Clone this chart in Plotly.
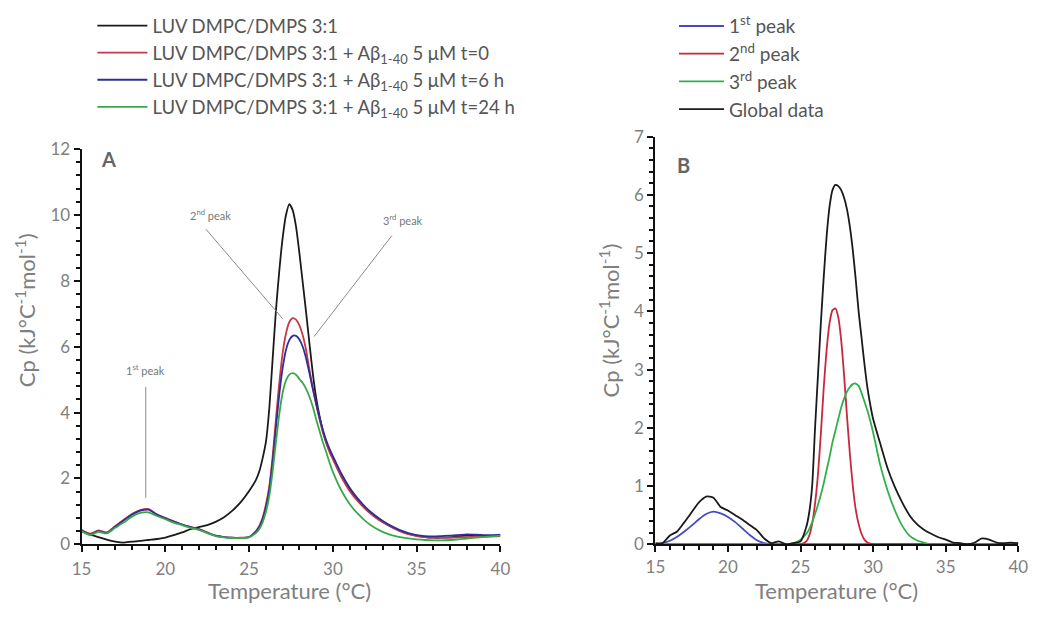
import plotly.graph_objects as go

# ---------------- data: panel A ----------------
temp_a = [15.0, 15.5, 16.0, 16.5, 17.0, 17.5, 18.0, 18.5, 19.0, 19.5, 20.0, 20.5, 21.0, 21.5,
          22.0, 22.5, 23.0, 23.5, 24.0, 24.5, 25.0, 25.4, 25.6, 25.8, 26.0, 26.2, 26.4, 26.6,
          26.8, 27.0, 27.2, 27.4, 27.6, 27.8, 28.0, 28.2, 28.4, 28.6, 28.8, 29.0, 29.2, 29.4,
          29.6, 29.8, 30.0, 30.5, 31.0, 31.5, 32.0, 32.5, 33.0, 33.5, 34.0, 34.5, 35.0, 35.5,
          36.0, 36.5, 37.0, 37.5, 38.0, 38.5, 39.0, 39.5, 40.0]

cp_luv = [0.40, 0.30, 0.22, 0.14, 0.08, 0.05, 0.08, 0.10, 0.13, 0.16, 0.20, 0.28, 0.36, 0.46,
          0.52, 0.58, 0.68, 0.82, 1.02, 1.28, 1.62, 1.95, 2.20, 2.60, 3.10, 4.10, 5.60, 7.10,
          8.30, 9.30, 10.00, 10.33, 10.15, 9.65, 8.85, 7.95, 7.05, 6.10, 5.20, 4.45, 3.90, 3.45,
          3.10, 2.85, 2.62, 2.10, 1.68, 1.35, 1.08, 0.86, 0.68, 0.53, 0.41, 0.32, 0.26, 0.22,
          0.20, 0.20, 0.21, 0.24, 0.27, 0.26, 0.24, 0.25, 0.27]

cp_t0 = [0.44, 0.32, 0.42, 0.36, 0.55, 0.74, 0.92, 1.04, 1.07, 0.90, 0.80, 0.70, 0.60, 0.53,
         0.46, 0.36, 0.26, 0.22, 0.20, 0.20, 0.22, 0.40, 0.55, 0.80, 1.20, 1.75, 2.65, 3.80,
         4.90, 5.80, 6.40, 6.75, 6.87, 6.82, 6.65, 6.35, 5.90, 5.30, 4.75, 4.25, 3.80, 3.40,
         3.08, 2.80, 2.58, 2.05, 1.62, 1.30, 1.04, 0.83, 0.66, 0.52, 0.40, 0.31, 0.25, 0.22,
         0.20, 0.20, 0.20, 0.21, 0.22, 0.23, 0.24, 0.24, 0.25]

cp_t6 = [0.42, 0.30, 0.40, 0.34, 0.53, 0.72, 0.90, 1.02, 1.05, 0.90, 0.78, 0.69, 0.60, 0.52,
         0.45, 0.35, 0.26, 0.22, 0.20, 0.19, 0.22, 0.38, 0.52, 0.76, 1.12, 1.65, 2.50, 3.55,
         4.55, 5.35, 5.90, 6.20, 6.33, 6.33, 6.22, 6.00, 5.65, 5.20, 4.72, 4.28, 3.86, 3.48,
         3.16, 2.90, 2.68, 2.15, 1.72, 1.38, 1.10, 0.88, 0.70, 0.55, 0.43, 0.34, 0.28, 0.25,
         0.24, 0.25, 0.26, 0.28, 0.30, 0.29, 0.28, 0.28, 0.29]

cp_t24 = [0.40, 0.28, 0.38, 0.33, 0.50, 0.66, 0.84, 0.95, 0.97, 0.86, 0.76, 0.66, 0.58, 0.50,
          0.44, 0.34, 0.25, 0.21, 0.19, 0.19, 0.21, 0.34, 0.46, 0.66, 0.98, 1.45, 2.20, 3.10,
          3.95, 4.60, 4.98, 5.15, 5.20, 5.15, 5.02, 4.90, 4.72, 4.48, 4.18, 3.80, 3.45, 3.10,
          2.80, 2.48, 2.20, 1.64, 1.22, 0.92, 0.68, 0.50, 0.37, 0.28, 0.22, 0.18, 0.15, 0.13,
          0.12, 0.12, 0.13, 0.15, 0.17, 0.20, 0.22, 0.24, 0.26]

# ---------------- data: panel B ----------------
temp_b = temp_a

cp_peak1 = [0.00, 0.02, 0.06, 0.13, 0.22, 0.32, 0.43, 0.52, 0.56, 0.53, 0.47, 0.38, 0.27, 0.16,
            0.07, 0.02, 0.00, 0.00, 0.00, 0.00, 0.00, 0.00, 0.00, 0.00, 0.00, 0.00, 0.00, 0.00,
            0.00, 0.00, 0.00, 0.00, 0.00, 0.00, 0.00, 0.00, 0.00, 0.00, 0.00, 0.00, 0.00, 0.00,
            0.00, 0.00, 0.00, 0.00, 0.00, 0.00, 0.00, 0.00, 0.00, 0.00, 0.00, 0.00, 0.00, 0.00,
            0.00, 0.00, 0.00, 0.00, 0.00, 0.00, 0.00, 0.00, 0.00]

cp_peak2 = [0.00, 0.00, 0.00, 0.00, 0.00, 0.00, 0.00, 0.00, 0.00, 0.00, 0.00, 0.00, 0.00, 0.00,
            0.00, 0.00, 0.00, 0.00, 0.00, 0.00, 0.00, 0.05, 0.15, 0.35, 0.70, 1.20, 1.90, 2.70,
            3.35, 3.80, 4.02, 4.05, 3.90, 3.50, 2.90, 2.20, 1.55, 1.00, 0.60, 0.35, 0.18, 0.08,
            0.03, 0.01, 0.00, 0.00, 0.00, 0.00, 0.00, 0.00, 0.00, 0.00, 0.00, 0.00, 0.00, 0.00,
            0.00, 0.00, 0.00, 0.00, 0.00, 0.00, 0.00, 0.00, 0.00]

cp_peak3 = [0.00, 0.00, 0.00, 0.00, 0.00, 0.00, 0.00, 0.00, 0.00, 0.00, 0.00, 0.00, 0.00, 0.00,
            0.00, 0.00, 0.00, 0.00, 0.00, 0.02, 0.08, 0.18, 0.26, 0.38, 0.52, 0.68, 0.85, 1.05,
            1.28, 1.50, 1.75, 1.95, 2.15, 2.35, 2.50, 2.62, 2.70, 2.75, 2.76, 2.72, 2.60, 2.45,
            2.30, 2.12, 1.92, 1.35, 0.92, 0.58, 0.32, 0.15, 0.07, 0.03, 0.00, 0.00, 0.00, 0.00,
            0.00, 0.00, 0.00, 0.00, 0.00, 0.00, 0.00, 0.00, 0.00]

cp_global = [0.02, 0.02, 0.15, 0.22, 0.38, 0.55, 0.72, 0.82, 0.80, 0.64, 0.58, 0.50, 0.42, 0.33,
             0.24, 0.10, 0.02, 0.05, 0.00, 0.02, 0.05, 0.30, 0.55, 1.00, 2.00, 2.90, 3.80, 4.60,
             5.30, 5.80, 6.08, 6.17, 6.15, 6.08, 5.95, 5.75, 5.45, 5.05, 4.55, 4.00, 3.55, 3.10,
             2.70, 2.40, 2.15, 1.72, 1.30, 0.98, 0.72, 0.50, 0.35, 0.25, 0.18, 0.12, 0.08, 0.03,
             0.02, 0.00, 0.03, 0.10, 0.08, 0.03, 0.02, 0.03, 0.02]

names_a = ["LUV DMPC/DMPS 3:1",
           "LUV DMPC/DMPS 3:1 + Aβ<sub>1-40</sub> 5 μM t=0",
           "LUV DMPC/DMPS 3:1 + Aβ<sub>1-40</sub> 5 μM t=6 h",
           "LUV DMPC/DMPS 3:1 + Aβ<sub>1-40</sub> 5 μM t=24 h"]
names_b = ["1<sup>st</sup> peak", "2<sup>nd</sup> peak", "3<sup>rd</sup> peak", "Global data"]

colors_a = ["#1a1a1a", "#c8384a", "#2e2e9a", "#3aa84a"]
colors_b = ["#4848c8", "#c8283c", "#30b04a", "#1a1a1a"]

FONT = "Lato, 'Open Sans', sans-serif"
GREY = "#7f7f7f"

fig = go.Figure()

series_a = [cp_luv, cp_t0, cp_t6, cp_t24]
for vals, name, col in zip(series_a, names_a, colors_a):
    fig.add_trace(go.Scatter(x=temp_a, y=vals, name=name, mode="lines",
                             line=dict(color=col, width=1.8, shape="spline", smoothing=0.6),
                             xaxis="x", yaxis="y", legend="legend"))

series_b = [cp_peak1, cp_peak2, cp_peak3, cp_global]
for vals, name, col in zip(series_b, names_b, colors_b):
    fig.add_trace(go.Scatter(x=temp_b, y=vals, name=name, mode="lines",
                             line=dict(color=col, width=1.8, shape="spline", smoothing=0.6),
                             xaxis="x2", yaxis="y2", legend="legend2"))

W, H = 1043, 619
axis_common = dict(showline=True, linecolor="#111111", linewidth=2, showgrid=False,
                   zeroline=False, ticks="outside", tickcolor="#111111", tickwidth=1.5,
                   ticklen=6, tickfont=dict(family=FONT, size=17, color=GREY))

fig.update_layout(
    width=W, height=H,
    margin=dict(l=0, r=0, t=0, b=0),
    paper_bgcolor="white", plot_bgcolor="white",
    font=dict(family=FONT, color=GREY),
    xaxis=dict(domain=[73 / W, 500 / W], range=[15, 40], dtick=5, anchor="y",
               ticklabelstandoff=2,
               minor=dict(ticks="outside", dtick=1, ticklen=4, tickcolor="#111111"),
               **axis_common),
    yaxis=dict(domain=[(H - 552) / H, (H - 143) / H], range=[0, 12], dtick=2, anchor="x",
               minor=dict(ticks="outside", dtick=0.4, ticklen=4, tickcolor="#111111"),
               **axis_common),
    xaxis2=dict(domain=[658 / W, 1028 / W], range=[15, 40], dtick=5, anchor="y2",
                minor=dict(ticks="outside", dtick=1, ticklen=4, tickcolor="#111111"),
                **axis_common),
    yaxis2=dict(domain=[(H - 552) / H, (H - 130) / H], range=[0, 7], dtick=1, anchor="x2",
                minor=dict(ticks="outside", dtick=0.2, ticklen=4, tickcolor="#111111"),
                **axis_common),
    legend=dict(x=84 / W, y=1 + 4 / H, xanchor="left", yanchor="top",
                bgcolor="rgba(0,0,0,0)", itemwidth=50, tracegroupgap=0,
                font=dict(family=FONT, size=18.5, color="#555555")),
    legend2=dict(x=677 / W, y=1 + 4 / H, xanchor="left", yanchor="top",
                 bgcolor="rgba(0,0,0,0)", itemwidth=45, tracegroupgap=0,
                 font=dict(family=FONT, size=19, color="#555555")),
    showlegend=True,
)

# axis titles as annotations (paper coords)
ytitle = "Cp (kJ°C<sup>-1</sup>mol<sup>-1</sup>)"
fig.add_annotation(text=ytitle, x=16 / W, y=(H - 310) / H, xref="paper", yref="paper",
                   xanchor="center", yanchor="middle",
                   textangle=-90, showarrow=False, font=dict(family=FONT, size=22, color=GREY))
fig.add_annotation(text=ytitle, x=611 / W, y=(H - 320) / H, xref="paper", yref="paper",
                   xanchor="center", yanchor="middle",
                   textangle=-90, showarrow=False, font=dict(family=FONT, size=22, color=GREY))
fig.add_annotation(text="Temperature (°C)", x=285 / W, y=(H - 600) / H, xref="paper", yref="paper",
                   xanchor="center", yanchor="middle",
                   showarrow=False, font=dict(family=FONT, size=22, color=GREY))
fig.add_annotation(text="Temperature (°C)", x=843 / W, y=(H - 600) / H, xref="paper", yref="paper",
                   xanchor="center", yanchor="middle",
                   showarrow=False, font=dict(family=FONT, size=22, color=GREY))

# panel letters
fig.add_annotation(text="<b>A</b>", x=16.6, y=11.7, xref="x", yref="y", showarrow=False,
                   font=dict(family=FONT, size=20, color="#666666"))
fig.add_annotation(text="<b>B</b>", x=16.95, y=6.52, xref="x2", yref="y2", showarrow=False,
                   font=dict(family=FONT, size=20, color="#666666"))

# peak labels with pointer lines in panel A
peak_labels = [("2<sup>nd</sup> peak", 22.7, 10.0, 22.42, 9.57, 27.0, 6.85),
               ("3<sup>rd</sup> peak", 34.2, 9.85, 33.53, 9.38, 28.88, 6.31),
               ("1<sup>st</sup> peak", 18.8, 5.3, 18.83, 4.78, 18.83, 1.41)]
for txt, tx, ty, x0, y0, x1, y1 in peak_labels:
    fig.add_annotation(text=txt, x=tx, y=ty, xref="x", yref="y", showarrow=False,
                       font=dict(family=FONT, size=11, color="#777777"))
    fig.add_shape(type="line", x0=x0, y0=y0, x1=x1, y1=y1, xref="x", yref="y",
                  line=dict(color="#8a8a8a", width=1))

fig.write_html("out.html")
